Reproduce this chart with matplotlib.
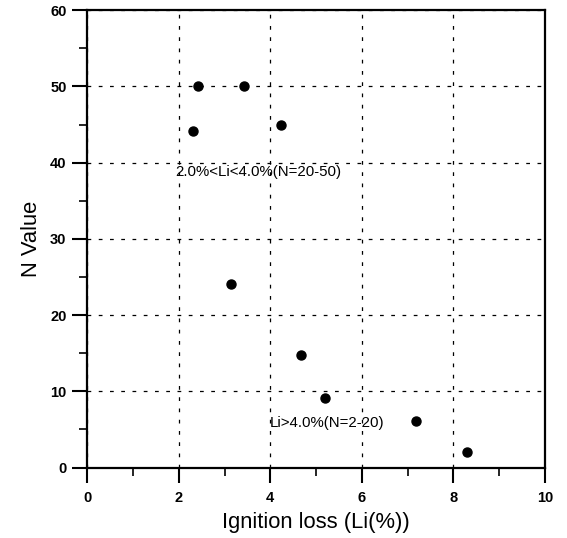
import matplotlib.pyplot as plt
from matplotlib.ticker import MultipleLocator

plt.rcParams['font.family'] = ['Liberation Sans', 'DejaVu Sans']

# data
ignition_loss = [2.41, 3.42, 2.32, 4.23, 3.15, 4.68, 5.19, 7.18, 8.29]
n_value       = [50.0, 50.0, 44.1, 45.0, 24.1, 14.8, 9.1, 6.1, 2.1]

labels     = ['2.0%<Li<4.0%(N=20-50)', 'Li>4.0%(N=2-20)']
label_x    = [1.92, 3.98]
label_y    = [38.8, 5.8]

fig = plt.figure(figsize=(5.67, 5.38), dpi=100)
ax = fig.add_axes([0.154, 0.131, 0.807, 0.850])

ax.plot(ignition_loss, n_value, 'o', color='black', ms=6.5, zorder=3)

for txt, tx, ty in zip(labels, label_x, label_y):
    ax.text(tx, ty, txt, fontsize=10.8, va='center', ha='left')

ax.set_xlim(0, 10)
ax.set_ylim(0, 60)
ax.xaxis.set_major_locator(MultipleLocator(2))
ax.xaxis.set_minor_locator(MultipleLocator(1))
ax.yaxis.set_major_locator(MultipleLocator(10))
ax.yaxis.set_minor_locator(MultipleLocator(5))

ax.grid(True, which='major', color='black', linestyle=(0, (3, 6)), linewidth=0.9)
ax.tick_params(which='major', direction='out', length=11, width=1.5, labelsize=10.5)
ax.tick_params(axis='x', which='major', pad=6)
ax.tick_params(axis='y', which='major', pad=4)
ax.tick_params(which='minor', direction='out', length=6, width=1.2)
for lbl in ax.get_xticklabels() + ax.get_yticklabels():
    lbl.set_fontweight('bold')
for sp in ax.spines.values():
    sp.set_linewidth(1.6)

ax.set_xlabel('Ignition loss (Li(%))', fontsize=15.8, labelpad=5)
ax.set_ylabel('N Value', fontsize=15.8, labelpad=6)

fig.savefig('out.png', dpi=100)
